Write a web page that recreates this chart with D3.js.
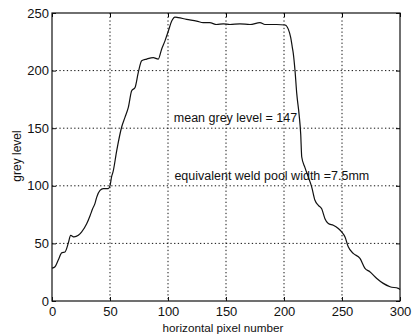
<!DOCTYPE html>
<html>
<head>
<meta charset="utf-8">
<script src="https://cdn.jsdelivr.net/npm/d3@7"></script>
<style>
  body { margin: 0; background: #fff; }
  text { font-family: "Liberation Sans", Arial, sans-serif; fill: #111; }
</style>
</head>
<body>
<svg id="chart" width="412" height="336"></svg>
<script>
// - - - - - - - - - -
// data
const pixelX = [0, 2.6, 5.4, 8.4, 11.2, 14, 16.1, 19, 22.7, 25.6, 29.9, 32.8, 35, 37, 38.5, 41.4, 44.2,
  48.5, 50, 51.4, 52.6, 55.8, 60, 62.9, 65.8, 68.7, 71.6, 74.4, 77.3, 81.6, 87.3, 91.6, 94.5, 97.4,
  100.3, 103.2, 106, 108.9, 116, 124.7, 130.4, 136, 141.9, 147.7, 153.4, 162, 170.7, 179.3, 183.6,
  193.7, 200.9, 203.7, 205.8, 207.2, 208, 209.5, 211, 213, 214.4, 215.3, 218, 221, 223.9, 226.7,
  229.6, 232.5, 235.3, 238.2, 242.5, 246.8, 249.7, 252.6, 255.4, 259.7, 265.5, 269.8, 274, 280,
  285.6, 291.4, 298.5, 300];
const greyLevel = [28.5, 29.7, 35.5, 41.8, 42.6, 50, 57, 55.6, 57, 60, 67, 74, 80, 84.5, 90, 96, 97.5,
  97.5, 100, 108, 112, 130.6, 150.8, 159.4, 168, 182.5, 185.4, 198.4, 208.5, 210, 211.3, 210, 218.6,
  225.8, 234.4, 243, 246.5, 246, 244.5, 243, 241.6, 241.6, 240, 240.6, 240, 240.6, 240, 241.6, 240,
  240, 239.6, 236, 228.7, 220, 215, 200, 180, 162, 145, 125, 116, 107.5, 98.9, 87.4,
  83, 80, 71.5, 67.2, 65.7, 62.9, 60, 55.6, 47, 41.3, 37, 28.3, 25.4, 19.6,
  15.3, 12.4, 11, 10];
const xTicks = [0, 50, 100, 150, 200, 250, 300];
const yTicks = [0, 50, 100, 150, 200, 250];
const notes = ['mean grey level = 147', 'equivalent weld pool width =7.5mm'];
// - - - - - - - - - -

const svg = d3.select('#chart');
const plotL = 52, plotR = 400, plotT = 13, plotB = 301;

const x = d3.scaleLinear().domain([0, 300]).range([plotL, plotR]);
const y = d3.scaleLinear().domain([0, 250]).range([plotB, plotT]);

// dotted grid
const grid = svg.append('g')
  .attr('stroke', '#111')
  .attr('stroke-width', 1)
  .attr('stroke-dasharray', '1.3,2.4');

grid.selectAll('.gx').data(xTicks.slice(1, -1)).join('line')
  .attr('x1', d => x(d)).attr('x2', d => x(d))
  .attr('y1', plotT).attr('y2', plotB);

grid.selectAll('.gy').data(yTicks.slice(1, -1)).join('line')
  .attr('x1', plotL).attr('x2', plotR)
  .attr('y1', d => y(d)).attr('y2', d => y(d));

// axes, ticks pointing inward like matlab
const xAxis = d3.axisBottom(x).tickValues(xTicks).tickSize(-4).tickPadding(6).tickSizeOuter(0);
const yAxis = d3.axisLeft(y).tickValues(yTicks).tickSize(-4).tickPadding(3).tickSizeOuter(0);

const gx = svg.append('g').attr('transform', `translate(0,${plotB})`).call(xAxis);
const gy = svg.append('g').attr('transform', `translate(${plotL},0)`).call(yAxis);

[gx, gy].forEach(g => {
  g.select('.domain').remove();
  g.selectAll('line').attr('stroke', '#111');
  g.selectAll('text').attr('font-size', 13).attr('fill', '#111')
    .style('font-family', '"Liberation Sans", Arial, sans-serif');
});

// ticks on top and right too
svg.append('g').attr('transform', `translate(0,${plotT})`)
  .call(d3.axisTop(x).tickValues(xTicks).tickSize(-4).tickFormat('').tickSizeOuter(0))
  .call(g => g.select('.domain').remove());
svg.append('g').attr('transform', `translate(${plotR},0)`)
  .call(d3.axisRight(y).tickValues(yTicks).tickSize(-4).tickFormat('').tickSizeOuter(0))
  .call(g => g.select('.domain').remove());

// frame
svg.append('rect')
  .attr('x', plotL).attr('y', plotT)
  .attr('width', plotR - plotL).attr('height', plotB - plotT)
  .attr('fill', 'none').attr('stroke', '#111').attr('stroke-width', 1.2);

// the profile
const line = d3.line()
  .x((d, i) => x(pixelX[i]))
  .y(d => y(d))
  .curve(d3.curveMonotoneX);

svg.append('path')
  .datum(greyLevel)
  .attr('d', line)
  .attr('fill', 'none')
  .attr('stroke', '#111')
  .attr('stroke-width', 1.2);

// labels
svg.append('text')
  .attr('x', 223).attr('y', 332)
  .attr('text-anchor', 'middle').attr('font-size', 11.7)
  .text('horizontal pixel number');

svg.append('text')
  .attr('transform', 'translate(21,156) rotate(-90)')
  .attr('text-anchor', 'middle').attr('font-size', 12)
  .text('grey level');

svg.append('text')
  .attr('x', x(105)).attr('y', 122)
  .attr('font-size', 12.5)
  .text(notes[0]);

svg.append('text')
  .attr('x', x(105.5)).attr('y', 180)
  .attr('font-size', 12.5)
  .text(notes[1]);
</script>
</body>
</html>
